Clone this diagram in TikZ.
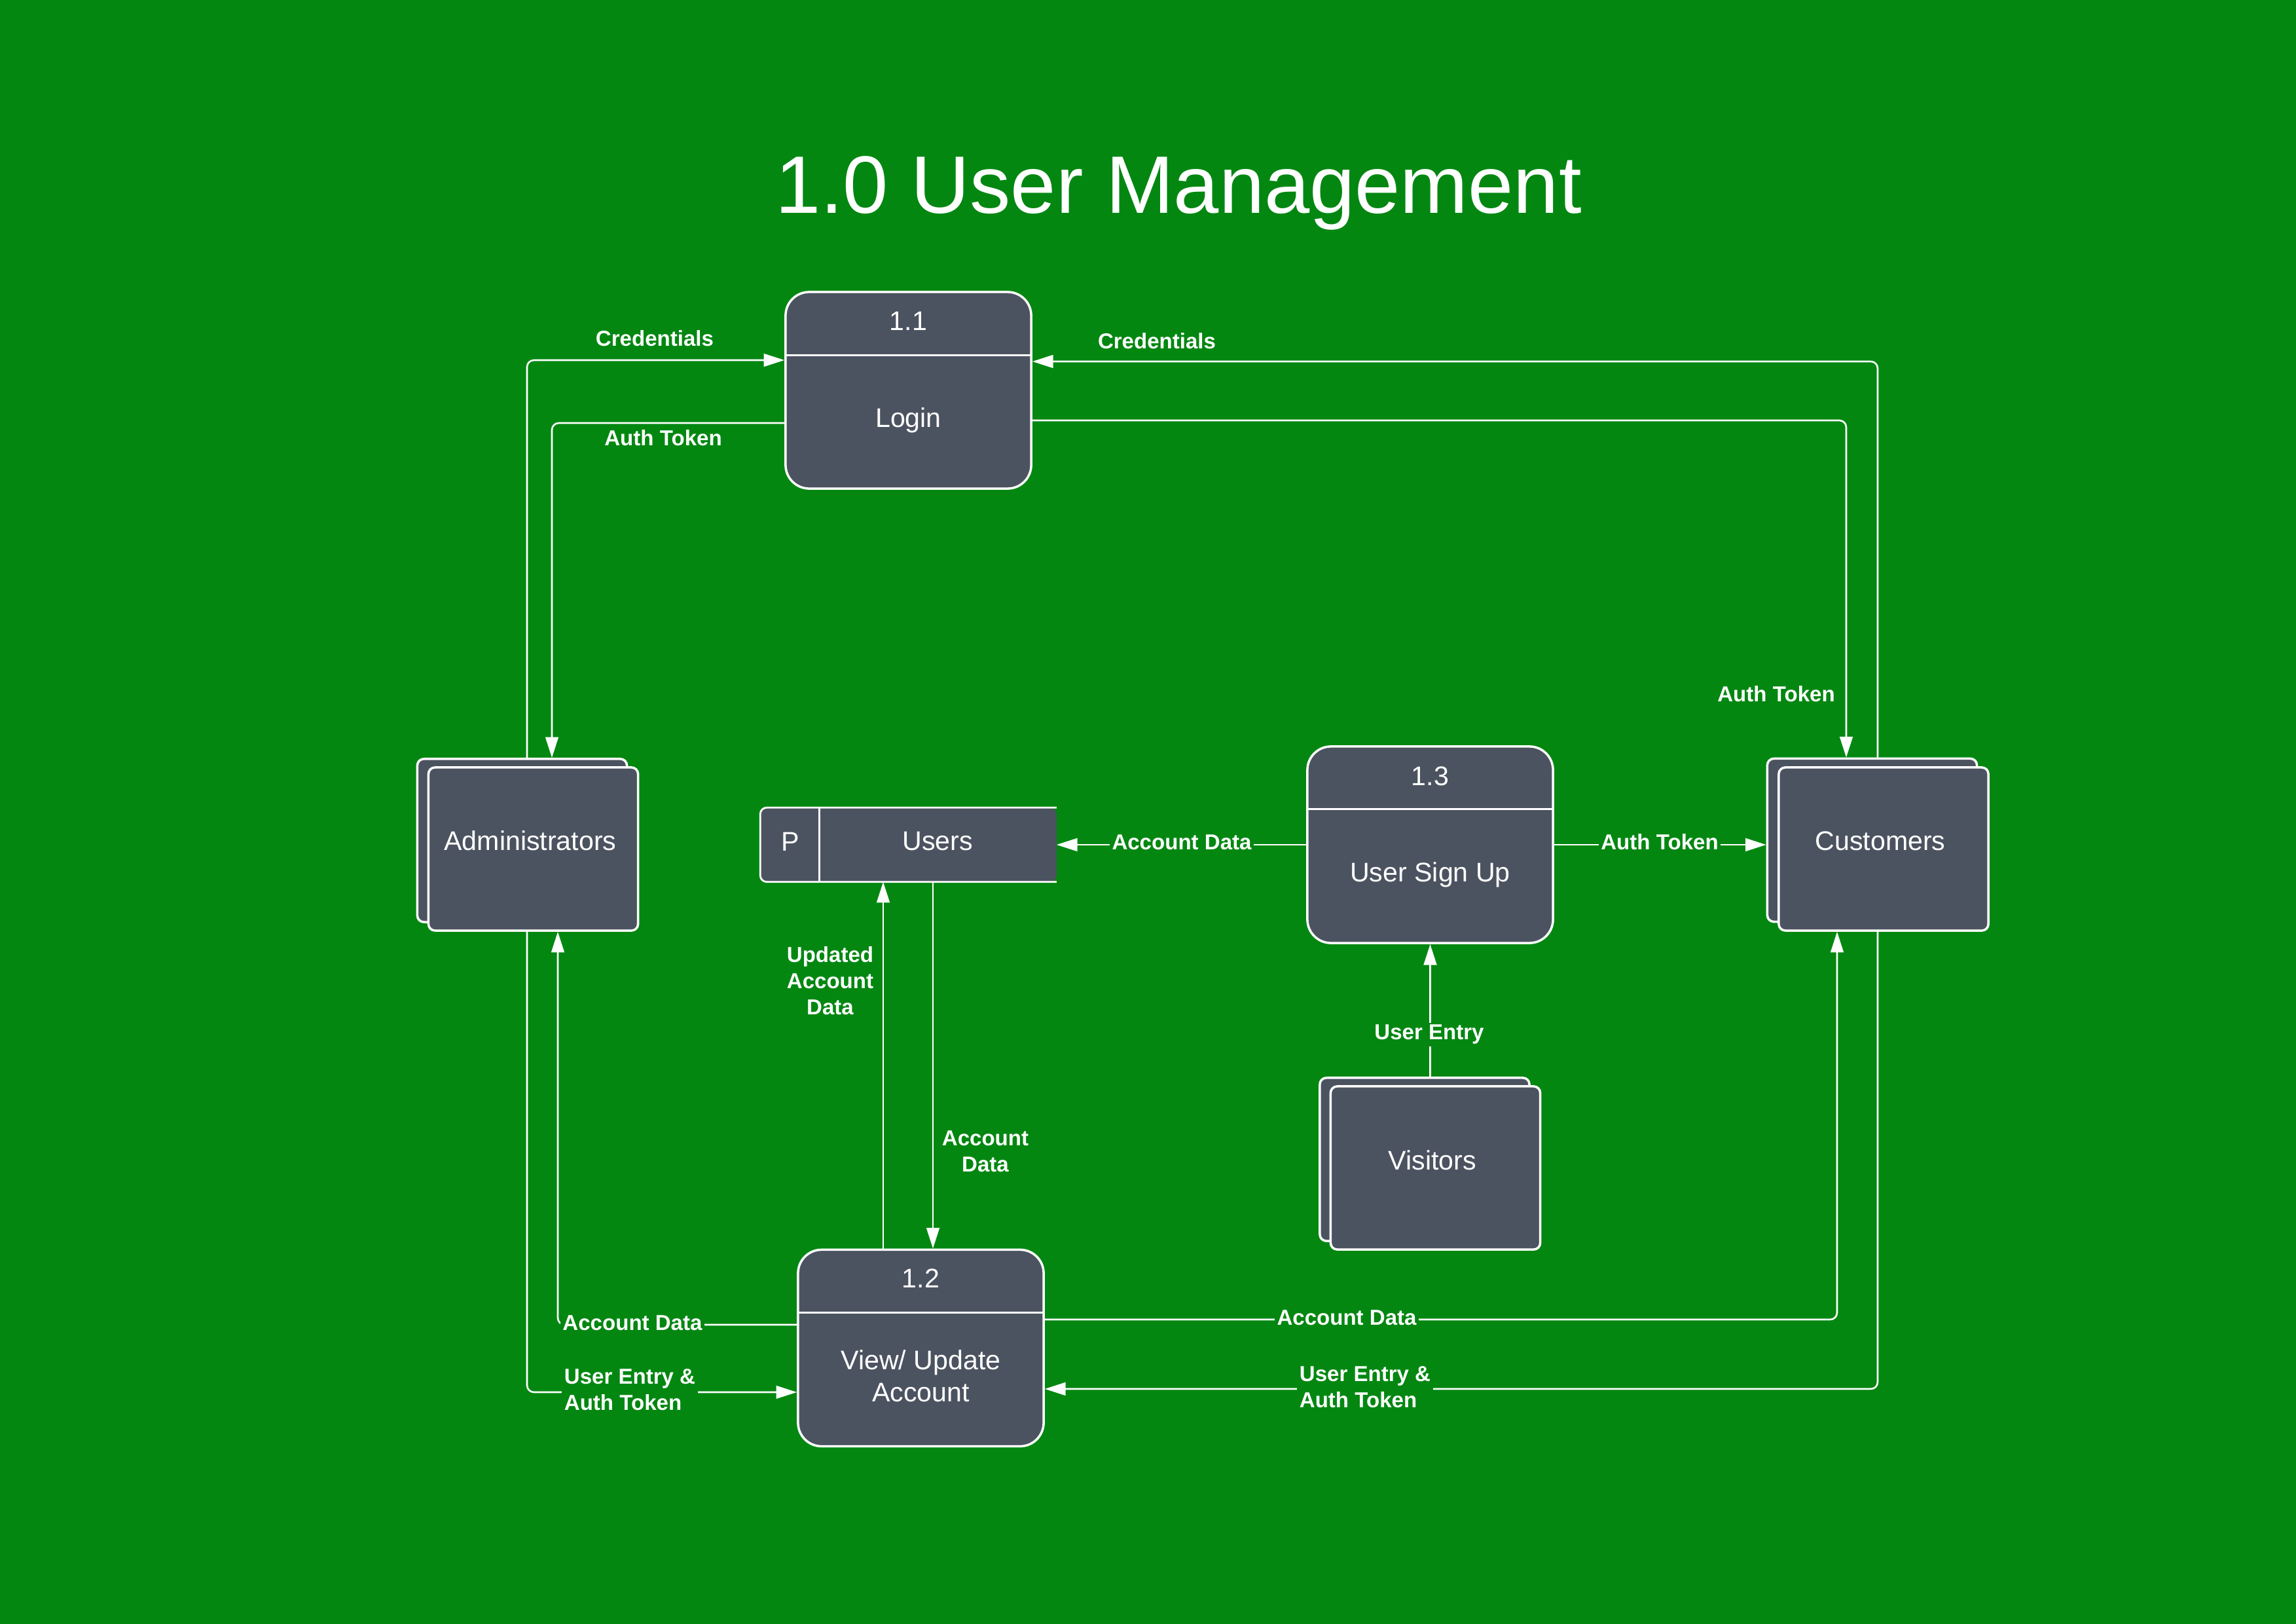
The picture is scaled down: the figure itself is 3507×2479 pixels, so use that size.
\documentclass[tikz,border=0pt]{standalone}
\usepackage{fontspec}
\setmainfont{Liberation Sans}
\usetikzlibrary{arrows.meta,calc}
\definecolor{bggreen}{RGB}{3,135,17}
\definecolor{boxfill}{RGB}{76,83,96}
\tikzset{
  x=0.01cm, y=-0.01cm,
  proc/.style={draw=white, line width=1pt, fill=boxfill, rounded corners=0.36cm,
    minimum width=3.75cm, minimum height=3.0cm, inner sep=0pt},
  entity/.style={draw=white, line width=1pt, fill=boxfill, rounded corners=0.1cm,
    minimum width=3.2cm, minimum height=2.49cm, inner sep=0pt},
  boxtext/.style={text=white, font=\fontsize{11.7}{14}\selectfont, inner sep=0pt, align=center},
  flowlbl/.style={text=white, font=\bfseries\fontsize{9.4}{11.4}\selectfont, inner sep=1pt, align=center},
  onlbl/.style={flowlbl, fill=bggreen},
  flow/.style={draw=white, line width=0.75pt, rounded corners=3pt,
    -{Triangle[length=9pt,width=5.6pt]}},
  divline/.style={draw=white, line width=0.8pt},
}
\begin{document}
\begin{tikzpicture}
\useasboundingbox (0,0) rectangle (3507,2479);
\fill[bggreen] (-20,-20) rectangle (3527,2499);

% title
\node[text=white, font=\fontsize{35.4}{40}\selectfont, inner sep=0pt] (title) at (1800,295) {1.0 User Management};

% processes
\node[proc] (login) at (1387.5,596) {};
\draw[divline] ([yshift=-0.98cm]login.north west) -- ([yshift=-0.98cm]login.north east);
\node[boxtext] (loginid) at (1387.5,490) {1.1};
\node[boxtext] (loginname) at (1387.5,642) {Login};

\node[proc] (signup) at (2184.5,1290) {};
\draw[divline] ([yshift=-0.97cm]signup.north west) -- ([yshift=-0.97cm]signup.north east);
\node[boxtext] (signupid) at (2184.5,1185) {1.3};
\node[boxtext] (signupname) at (2184.5,1336) {User Sign Up};

\node[proc] (view) at (1406.5,2058.5) {};
\draw[divline] ([yshift=-0.98cm]view.north west) -- ([yshift=-0.98cm]view.north east);
\node[boxtext] (viewid) at (1406.5,1952) {1.2};
\node[boxtext] (viewname) at (1406.5,2101) {View/ Update\\Account};

% external entities
\node[entity] (adminback) at (797.5,1283.5) {};
\node[entity] (admin) at (814.5,1296.5) {};
\node[boxtext] (admintext) at (810,1284) {Administrators};

\node[entity] (custback) at (2859.5,1283) {};
\node[entity] (cust) at (2877,1296.5) {};
\node[boxtext] (custtext) at (2872,1284) {Customers};

\node[entity] (visback) at (2176,1770.5) {};
\node[entity] (vis) at (2192.5,1783.5) {};
\node[boxtext] (vistext) at (2188,1772) {Visitors};

% data store
\node[minimum width=4.51cm, minimum height=1.12cm, inner sep=0pt] (users) at (1387.5,1290) {};
\fill[boxfill, rounded corners=0.1cm] (users.north west) rectangle (users.south east);
\draw[divline, rounded corners=0.1cm] (users.north east) -- (users.north west) -- (users.south west) -- (users.south east);
\draw[divline] ([xshift=0.9cm]users.north west) -- ([xshift=0.9cm]users.south west);
\node[boxtext] (usersp) at (1207,1285) {P};
\node[boxtext] (usersname) at (1432,1285) {Users};

% lanes
\coordinate (cA) at (805,550);
\coordinate (cB) at (843,646);
\coordinate (cC) at (2868,552);
\coordinate (cD) at (2820,642);
\coordinate (cE) at (852,2023);
\coordinate (cF) at (805,2126);
\coordinate (cG) at (2806,2015);
\coordinate (cH) at (2868,2121);
\coordinate (cI) at (1349,0);
\coordinate (cJ) at (1425,0);
\coordinate (cK) at (0,1290);

% connectors
\draw[flow] (cA |- adminback.north) |- (login.west |- cA);
\node[flowlbl] (l1) at (1000,517) {Credentials};

\draw[flow] (login.west |- cB) -| (cB |- adminback.north);
\node[flowlbl] (l2) at (1013,669) {Auth Token};

\draw[flow] (cC |- custback.north) |- (login.east |- cC);
\node[flowlbl] (l3) at (1767,521) {Credentials};

\draw[flow] (login.east |- cD) -| (cD |- custback.north);
\node[flowlbl] (l4) at (2713,1060) {Auth Token};

\draw[flow] (signup.west |- cK) -- (users.east |- cK);
\node[onlbl] (l5) at (1805,1286) {Account Data};
\draw[flow] (signup.east |- cK) -- (custback.west |- cK);
\node[onlbl] (l6) at (2535,1286) {Auth Token};

\draw[flow] (visback.north -| signup.south) -- (signup.south);
\node[onlbl] (l7) at (2183,1580) {User Entry};

\draw[flow] (cI |- view.north) -- (cI |- users.south);
\node[flowlbl] (l8) at (1268,1498) {Updated\\Account\\Data};

\draw[flow] (cJ |- users.south) -- (cJ |- view.north);
\node[flowlbl] (l9) at (1505,1758) {Account\\Data};

\draw[flow] (view.west |- cE) -| (cE |- admin.south);
\node[onlbl] (l10) at (966,2020) {Account Data};

\draw[flow] (cF |- admin.south) |- (view.west |- cF);
\node[onlbl, align=left] (l11) at (962,2122) {User Entry \&\\Auth Token};

\draw[flow] (view.east |- cG) -| (cG |- cust.south);
\node[onlbl] (l12) at (2057,2012) {Account Data};

\draw[flow] (cH |- cust.south) |- (view.east |- cH);
\node[onlbl, align=left] (l13) at (2085,2118) {User Entry \&\\Auth Token};
\end{tikzpicture}
\end{document}
